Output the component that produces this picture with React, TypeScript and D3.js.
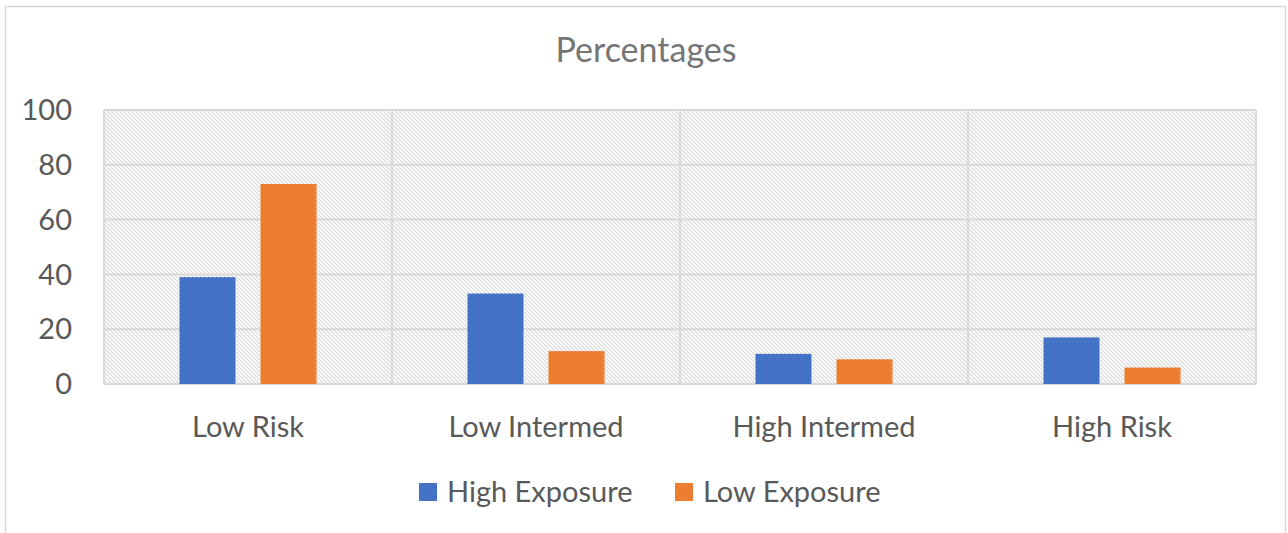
import { useRef, useEffect } from 'react';
import * as d3 from 'd3';

const CATEGORIES = ['Low Risk', 'Low Intermed', 'High Intermed', 'High Risk'];
const SERIES = ['High Exposure', 'Low Exposure'];
const HIGH_EXPOSURE = [39, 33, 11, 17];
const LOW_EXPOSURE = [73, 12, 9, 6];
const Y_TICKS = [0, 20, 40, 60, 80, 100];

const COLORS = ['#4472c4', '#ed7d31'];
const FONT = 'Lato, "Open Sans", sans-serif';

export default function App() {
  const svgRef = useRef<SVGSVGElement>(null);

  useEffect(() => {
    if (!svgRef.current) return;
    const svg = d3.select(svgRef.current);
    svg.selectAll('*').remove();

    const width = 1288;
    const height = 533;
    const plot = { left: 104, right: 1256, top: 110, bottom: 384 };

    // hatch pattern for plot background
    const defs = svg.append('defs');
    const pat = defs
      .append('pattern')
      .attr('id', 'hatch')
      .attr('patternUnits', 'userSpaceOnUse')
      .attr('width', 4)
      .attr('height', 4);
    pat.append('rect').attr('width', 4).attr('height', 4).attr('fill', '#f7f7f7');
    pat
      .append('path')
      .attr('d', 'M-1,-1 L5,5 M-1,3 L1,5 M3,-1 L5,1')
      .attr('stroke', '#d6d6d6')
      .attr('stroke-width', 1);

    svg.append('rect').attr('width', width).attr('height', height).attr('fill', '#fff');

    // outer chart frame
    svg
      .append('rect')
      .attr('x', 5.5)
      .attr('y', 6.5)
      .attr('width', 1280)
      .attr('height', 560)
      .attr('fill', 'none')
      .attr('stroke', '#d9d9d9')
      .attr('stroke-width', 1.5);

    const x = d3
      .scaleBand<string>()
      .domain(CATEGORIES)
      .range([plot.left, plot.right]);
    const x1 = d3
      .scaleBand<string>()
      .domain(SERIES)
      .range([0, x.bandwidth()])
      .paddingInner(0.309)
      .paddingOuter(0.932);
    const y = d3.scaleLinear().domain([0, 100]).range([plot.bottom, plot.top]);

    svg
      .append('rect')
      .attr('x', plot.left)
      .attr('y', plot.top)
      .attr('width', plot.right - plot.left)
      .attr('height', plot.bottom - plot.top)
      .attr('fill', 'url(#hatch)');

    // gridlines
    svg
      .append('g')
      .selectAll('line')
      .data(Y_TICKS)
      .join('line')
      .attr('x1', plot.left)
      .attr('x2', plot.right)
      .attr('y1', (d) => y(d))
      .attr('y2', (d) => y(d))
      .attr('stroke', '#d9d9d9')
      .attr('stroke-width', 2);

    const vlines = [...CATEGORIES.map((c) => x(c)!), plot.right];
    svg
      .append('g')
      .selectAll('line')
      .data(vlines)
      .join('line')
      .attr('x1', (d) => d)
      .attr('x2', (d) => d)
      .attr('y1', plot.top)
      .attr('y2', plot.bottom)
      .attr('stroke', '#d9d9d9')
      .attr('stroke-width', 2);

    // bars
    const values = [HIGH_EXPOSURE, LOW_EXPOSURE];
    SERIES.forEach((s, si) => {
      svg
        .append('g')
        .selectAll('rect')
        .data(values[si])
        .join('rect')
        .attr('x', (_, i) => x(CATEGORIES[i])! + x1(s)!)
        .attr('y', (d) => y(d))
        .attr('width', x1.bandwidth())
        .attr('height', (d) => y(0) - y(d))
        .attr('fill', COLORS[si]);
    });

    // y axis labels
    svg
      .append('g')
      .selectAll('text')
      .data(Y_TICKS)
      .join('text')
      .attr('x', 72)
      .attr('y', (d) => y(d))
      .attr('dy', '0.35em')
      .attr('text-anchor', 'end')
      .attr('fill', '#595959')
      .attr('font-family', FONT)
      .attr('font-size', 29)
      .text((d) => d);

    // category labels
    svg
      .append('g')
      .selectAll('text')
      .data(CATEGORIES)
      .join('text')
      .attr('x', (d) => x(d)! + x.bandwidth() / 2)
      .attr('y', 427)
      .attr('dy', '0.35em')
      .attr('text-anchor', 'middle')
      .attr('fill', '#595959')
      .attr('font-family', FONT)
      .attr('font-size', 29)
      .text((d) => d);

    // title
    svg
      .append('text')
      .attr('x', 646)
      .attr('y', 50)
      .attr('dy', '0.35em')
      .attr('text-anchor', 'middle')
      .attr('fill', '#757575')
      .attr('font-family', FONT)
      .attr('font-size', 34)
      .text('Percentages');

    // legend
    const legendX = [419, 675];
    SERIES.forEach((s, i) => {
      const g = svg.append('g').attr('transform', `translate(${legendX[i]},483)`);
      g.append('rect').attr('width', 18).attr('height', 18).attr('fill', COLORS[i]);
      g.append('text')
        .attr('x', 28)
        .attr('y', 9)
        .attr('dy', '0.35em')
        .attr('fill', '#595959')
        .attr('font-family', FONT)
        .attr('font-size', 29)
        .text(s);
    });
  }, []);

  return (
    <svg
      ref={svgRef}
      width={1288}
      height={533}
      style={{ position: 'absolute', left: 0, top: 0 }}
    />
  );
}
